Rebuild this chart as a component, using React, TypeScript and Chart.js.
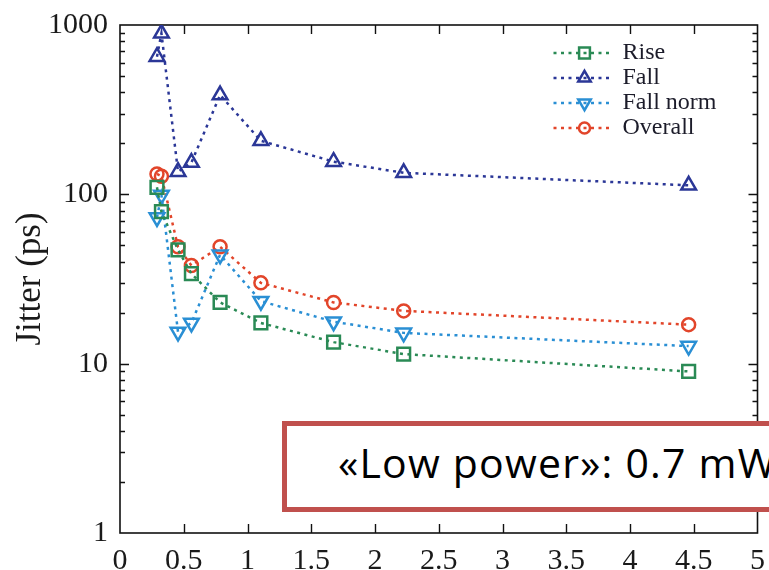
import React, { useEffect, useRef } from 'react';
import { Chart, registerables } from 'chart.js';

Chart.register(...registerables);

// ---- data ----
const xValues = [0.29, 0.325, 0.455, 0.56, 0.785, 1.105, 1.675, 2.225, 4.46];
const riseValues = [110, 79, 47, 34, 23, 17.4, 13.4, 11.4, 9.0];
const fallValues = [650, 893, 136, 154, 386, 207, 156, 134, 113];
const fallNormValues = [73, 99, 15.4, 17.4, 44, 23.4, 17.7, 15.2, 12.7];
const overallValues = [132, 128, 49, 38, 49, 30, 23, 20.5, 17];
const seriesNames = ['Rise', 'Fall', 'Fall norm', 'Overall'];
const xTickValues = [0, 0.5, 1, 1.5, 2, 2.5, 3, 3.5, 4, 4.5, 5];
const xTickLabels = ['0', '0.5', '1', '1.5', '2', '2.5', '3', '3.5', '4', '4.5', '5'];
const yTickValues = [1, 10, 100, 1000];
const yTickLabels = ['1', '10', '100', '1000'];
const yAxisTitle = 'Jitter (ps)';
const noteText = '\u00abLow power\u00bb: 0.7 mW';

const colors = ['#2a8a55', '#2b3797', '#2a8fd4', '#e2452a'];
const pointStyles = ['rect', 'triangle', 'triangle', 'circle'];
const pointRotations = [0, 0, 180, 0];
const pointRadii = [9, 8.5, 8.5, 6.5];
const seriesValues = [riseValues, fallValues, fallNormValues, overallValues];

const SERIF = '"Liberation Serif", "Times New Roman", serif';
const DASH = [3, 4.5];

function drawMarker(ctx: CanvasRenderingContext2D, style: string, x: number, y: number, r: number, rot: number) {
  ctx.beginPath();
  if (style === 'rect') {
    const s = Math.SQRT1_2 * r;
    ctx.rect(x - s, y - s, 2 * s, 2 * s);
  } else if (style === 'triangle') {
    let a = (rot * Math.PI) / 180;
    for (let i = 0; i < 3; i++) {
      const px = x + Math.sin(a) * r;
      const py = y - Math.cos(a) * r;
      if (i === 0) ctx.moveTo(px, py);
      else ctx.lineTo(px, py);
      a += (2 * Math.PI) / 3;
    }
    ctx.closePath();
  } else {
    ctx.arc(x, y, r, 0, Math.PI * 2);
  }
  ctx.stroke();
}

const framePlugin = {
  id: 'frame',
  beforeDatasetsDraw(chart: any) {
    const { ctx, chartArea: a, scales } = chart;
    const xs = scales.x;
    const ys = scales.y;
    ctx.save();
    ctx.strokeStyle = '#111';
    ctx.lineWidth = 1.6;
    ctx.strokeRect(a.left, a.top, a.right - a.left, a.bottom - a.top);
    ctx.lineWidth = 1.4;
    ctx.beginPath();
    xTickValues.slice(1, -1).forEach((v) => {
      const px = Math.round(xs.getPixelForValue(v)) + 0.5;
      ctx.moveTo(px, a.bottom);
      ctx.lineTo(px, a.bottom - 9);
      ctx.moveTo(px, a.top);
      ctx.lineTo(px, a.top + 9);
    });
    yTickValues.forEach((d, idx) => {
      if (idx > 0 && idx < yTickValues.length - 1) {
        const py = Math.round(ys.getPixelForValue(d)) + 0.5;
        ctx.moveTo(a.left, py);
        ctx.lineTo(a.left + 9, py);
        ctx.moveTo(a.right, py);
        ctx.lineTo(a.right - 9, py);
      }
      if (idx < yTickValues.length - 1) {
        for (let k = 2; k <= 9; k++) {
          const py = Math.round(ys.getPixelForValue(k * d)) + 0.5;
          ctx.moveTo(a.left, py);
          ctx.lineTo(a.left + 5, py);
          ctx.moveTo(a.right, py);
          ctx.lineTo(a.right - 5, py);
        }
      }
    });
    ctx.stroke();
    ctx.restore();
  },
};

const legendPlugin = {
  id: 'customLegend',
  afterDatasetsDraw(chart: any) {
    const { ctx, chartArea: a } = chart;
    ctx.save();
    seriesNames.forEach((name, i) => {
      const y = a.top + 28 + i * 25;
      const x0 = a.right - 204;
      const x1 = a.right - 146;
      const xm = a.right - 173;
      ctx.strokeStyle = colors[i];
      ctx.lineWidth = 2.5;
      ctx.setLineDash(DASH);
      ctx.beginPath();
      ctx.moveTo(x0, y);
      ctx.lineTo(x1, y);
      ctx.stroke();
      ctx.setLineDash([]);
      ctx.lineWidth = 2.5;
      drawMarker(ctx, pointStyles[i], xm, y, pointRadii[i] * 0.85, pointRotations[i]);
      ctx.fillStyle = '#1c1c2a';
      ctx.font = `24px ${SERIF}`;
      ctx.textBaseline = 'middle';
      ctx.textAlign = 'left';
      ctx.fillText(name, a.right - 135, y);
    });
    ctx.restore();
  },
};

export default function App() {
  const ref = useRef<HTMLCanvasElement>(null);

  useEffect(() => {
    const datasets = seriesNames.map((name, i) => ({
      label: name,
      data: xValues.map((x, j) => ({ x, y: seriesValues[i][j] })),
      borderColor: colors[i],
      backgroundColor: 'rgba(0,0,0,0)',
      borderWidth: 2.5,
      borderDash: DASH,
      pointStyle: pointStyles[i] as any,
      pointRotation: pointRotations[i],
      pointRadius: pointRadii[i],
      pointBorderWidth: 2.5,
      pointBorderColor: colors[i],
      pointBackgroundColor: 'rgba(0,0,0,0)',
      tension: 0,
      fill: false,
    }));

    const chart = new Chart(ref.current as HTMLCanvasElement, {
      type: 'line',
      data: { datasets },
      options: {
        animation: false,
        responsive: false,
        devicePixelRatio: 1,
        layout: { padding: { top: 25, right: 8, left: 0, bottom: 0 } },
        plugins: {
          legend: { display: false },
          tooltip: { enabled: false },
        },
        scales: {
          x: {
            type: 'linear',
            min: 0,
            max: 5,
            afterBuildTicks: (s: any) => {
              s.ticks = xTickValues.map((v) => ({ value: v }));
            },
            afterFit: (s: any) => {
              s.height = 37;
              s.paddingLeft = 0;
              s.paddingRight = 0;
              s.paddingTop = 0;
              s.paddingBottom = 0;
            },
            ticks: {
              font: { family: SERIF, size: 30 },
              color: '#1a1a1a',
              padding: 10,
              maxRotation: 0,
              autoSkip: false,
              callback: (v: any) => {
                const i = xTickValues.indexOf(Number(v));
                return i >= 0 ? xTickLabels[i] : '';
              },
            },
            grid: { display: false, drawTicks: false },
            border: { display: false },
          },
          y: {
            type: 'logarithmic',
            min: 1,
            max: 1000,
            afterBuildTicks: (s: any) => {
              s.ticks = yTickValues.map((v) => ({ value: v }));
            },
            afterFit: (s: any) => {
              s.width = 120;
              s.paddingLeft = 0;
              s.paddingRight = 0;
              s.paddingTop = 0;
              s.paddingBottom = 0;
            },
            ticks: {
              font: { family: SERIF, size: 30 },
              color: '#1a1a1a',
              padding: 12,
              autoSkip: false,
              callback: (v: any) => {
                const i = yTickValues.indexOf(Number(v));
                return i >= 0 ? yTickLabels[i] : '';
              },
            },
            grid: { display: false, drawTicks: false },
            border: { display: false },
            title: {
              display: true,
              text: yAxisTitle,
              font: { family: SERIF, size: 35 },
              color: '#1a1a1a',
              padding: { top: 10, bottom: 0 },
            },
          },
        },
      },
      plugins: [framePlugin, legendPlugin],
    });
    return () => chart.destroy();
  }, []);

  return (
    <div
      style={{
        position: 'fixed',
        left: 0,
        top: 0,
        width: 769,
        height: 570,
        overflow: 'hidden',
        background: '#fff',
      }}
    >
      <canvas ref={ref} width={769} height={570} style={{ display: 'block', width: 769, height: 570 }} />
      <div
        style={{
          position: 'absolute',
          left: 282,
          top: 421,
          width: 560,
          height: 91,
          boxSizing: 'border-box',
          border: '5px solid #c0504d',
          background: '#fff',
        }}
      >
        <span
          style={{
            position: 'absolute',
            left: 51,
            top: 15.6,
            fontFamily: '"Open Sans", "Noto Sans", sans-serif',
            fontSize: 41,
            lineHeight: '41px',
            letterSpacing: 1.2,
            whiteSpace: 'nowrap',
            color: '#000',
          }}
        >
          {noteText}
        </span>
      </div>
    </div>
  );
}
